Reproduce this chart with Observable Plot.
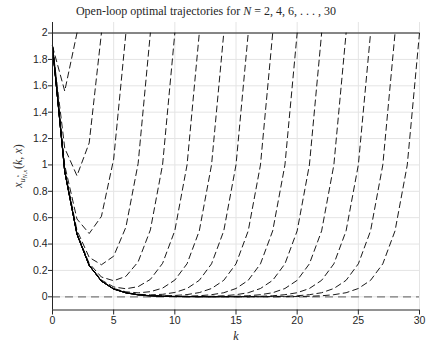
<!DOCTYPE html>
<html>
<head>
<meta charset="utf-8">
<script src="https://cdn.jsdelivr.net/npm/d3@7"></script>
<script src="https://cdn.jsdelivr.net/npm/@observablehq/plot@0.6"></script>
<style>
  html, body { margin: 0; padding: 0; background: #fff; }
  #chart { width: 429px; height: 344px; position: relative; }
</style>
</head>
<body>
<div id="chart"></div>
<script>
// ---- data ----
const horizons = [2, 4, 6, 8, 10, 12, 14, 16, 18, 20, 22, 24, 26, 28, 30];

const traj2  = [1.9, 1.56, 2];
const traj4  = [1.9, 1.127, 0.918, 1.167, 2];
const traj6  = [1.9, 0.996, 0.590, 0.480, 0.610, 1.044, 2];
const traj8  = [1.9, 0.962, 0.504, 0.299, 0.243, 0.308, 0.528, 1.011, 2];
const traj10 = [1.9, 0.953, 0.482, 0.253, 0.150, 0.122, 0.155, 0.265, 0.507, 1.003, 2];
const traj12 = [1.9, 0.951, 0.477, 0.241, 0.127, 0.075, 0.061, 0.077, 0.132, 0.254, 0.502, 1.001, 2];
const traj14 = [1.9, 0.950, 0.475, 0.238, 0.121, 0.063, 0.038, 0.030, 0.039, 0.066, 0.127, 0.251, 0.500, 1.000, 2];
const traj16 = [1.9, 0.950, 0.475, 0.238, 0.119, 0.060, 0.032, 0.019, 0.015, 0.019, 0.033, 0.063, 0.125, 0.250, 0.5, 1, 2];
const traj18 = [1.9, 0.95, 0.475, 0.238, 0.119, 0.060, 0.030, 0.016, 0.009, 0.008, 0.010, 0.017, 0.032, 0.063, 0.125, 0.25, 0.5, 1, 2];
const traj20 = [1.9, 0.95, 0.475, 0.238, 0.119, 0.059, 0.030, 0.015, 0.008, 0.005, 0.004, 0.005, 0.008, 0.016, 0.031, 0.063, 0.125, 0.25, 0.5, 1, 2];
const traj22 = [1.9, 0.95, 0.475, 0.238, 0.119, 0.059, 0.030, 0.015, 0.008, 0.004, 0.002, 0.002, 0.002, 0.004, 0.008, 0.016, 0.031, 0.063, 0.125, 0.25, 0.5, 1, 2];
const traj24 = [1.9, 0.95, 0.475, 0.238, 0.119, 0.059, 0.030, 0.015, 0.007, 0.004, 0.002, 0.001, 0.001, 0.001, 0.002, 0.004, 0.008, 0.016, 0.031, 0.063, 0.125, 0.25, 0.5, 1, 2];
const traj26 = [1.9, 0.95, 0.475, 0.238, 0.119, 0.059, 0.030, 0.015, 0.007, 0.004, 0.002, 0.001, 0.001, 0.000, 0.001, 0.001, 0.002, 0.004, 0.008, 0.016, 0.031, 0.063, 0.125, 0.25, 0.5, 1, 2];
const traj28 = [1.9, 0.95, 0.475, 0.238, 0.119, 0.059, 0.030, 0.015, 0.007, 0.004, 0.002, 0.001, 0.000, 0.000, 0.000, 0.000, 0.000, 0.001, 0.002, 0.004, 0.008, 0.016, 0.031, 0.063, 0.125, 0.25, 0.5, 1, 2];
const traj30 = [1.9, 0.95, 0.475, 0.238, 0.119, 0.059, 0.030, 0.015, 0.007, 0.004, 0.002, 0.001, 0.000, 0.000, 0.000, 0.000, 0.000, 0.000, 0.000, 0.001, 0.002, 0.004, 0.008, 0.016, 0.031, 0.063, 0.125, 0.25, 0.5, 1, 2];

const trajectories = [traj2, traj4, traj6, traj8, traj10, traj12, traj14, traj16, traj18, traj20, traj22, traj24, traj26, traj28, traj30];

const terminalValue = [2];
const referenceValue = [0];

const kTicks = [0, 5, 10, 15, 20, 25, 30];
const kTickLabels = ["0", "5", "10", "15", "20", "25", "30"];
const yTicks = [0, 0.2, 0.4, 0.6, 0.8, 1, 1.2, 1.4, 1.6, 1.8, 2];
const yTickLabels = ["0", "0.2", "0.4", "0.6", "0.8", "1", "1.2", "1.4", "1.6", "1.8", "2"];

const titleText = "Open-loop optimal trajectories for ";
const titleMath = " = 2, 4, 6, . . . , 30";

// ---- build table ----
const rows = [];
trajectories.forEach((t, i) => t.forEach((v, k) => rows.push({N: horizons[i], k, x: v})));

const lineMarks = horizons.map((N, i) =>
  Plot.line(rows.filter(r => r.N === N), {
    x: "k", y: "x",
    stroke: "#000", strokeWidth: 0.9,
    strokeDasharray: "6,4",
    strokeDashoffset: (i * 3.7) % 10
  })
);

const chart = Plot.plot({
  width: 429,
  height: 344,
  marginLeft: 52,
  marginRight: 10,
  marginTop: 22,
  marginBottom: 34.5,
  style: {fontFamily: "'Liberation Sans', Arial, sans-serif", fontSize: "10.5px", color: "#262626", background: "#fff"},
  x: {domain: [0, 30]},
  y: {domain: [-0.1, 2.08]},
  marks: [
    Plot.ruleY(yTicks, {stroke: "#e4e4e4", strokeWidth: 1}),
    Plot.ruleX(kTicks, {stroke: "#e4e4e4", strokeWidth: 1}),
    Plot.ruleY(referenceValue, {stroke: "#7a7a7a", strokeWidth: 1.3, strokeDasharray: "8,5"}),
    Plot.ruleY(terminalValue, {stroke: "#1a1a1a", strokeWidth: 1.1}),
    ...lineMarks,
    Plot.ruleX([0], {stroke: "#262626", strokeWidth: 1}),
    Plot.ruleY([-0.1], {stroke: "#262626", strokeWidth: 1}),
    Plot.axisY({ticks: yTicks, tickFormat: (d, i) => yTickLabels[i], tickSize: 4, tickPadding: 1, label: null, stroke: "#262626"}),
    Plot.axisX({ticks: kTicks, tickFormat: (d, i) => kTickLabels[i], tickSize: 5, tickPadding: 2, label: null, stroke: "#262626"})
  ]
});

document.getElementById("chart").appendChild(chart);

// ---- title and axis labels (serif, LaTeX-like) ----
const svg = d3.select(chart);
const serif = "'Liberation Serif', 'DejaVu Serif', serif";

const title = svg.append("text")
  .attr("x", 206).attr("y", 15)
  .attr("text-anchor", "middle")
  .attr("font-family", serif)
  .attr("font-size", 12)
  .attr("fill", "#262626");
title.append("tspan").text(titleText);
title.append("tspan").attr("font-style", "italic").text("N");
title.append("tspan").text(titleMath);

svg.append("text")
  .attr("x", 236).attr("y", 340)
  .attr("text-anchor", "middle")
  .attr("font-family", serif)
  .attr("font-style", "italic")
  .attr("font-size", 12)
  .attr("fill", "#262626")
  .text("k");

const yl = svg.append("text")
  .attr("transform", "translate(22,166) rotate(-90)")
  .attr("text-anchor", "middle")
  .attr("font-family", serif)
  .attr("font-size", 12)
  .attr("fill", "#333");
yl.append("tspan").attr("font-style", "italic").text("x");
yl.append("tspan").attr("font-style", "italic").attr("font-size", 8.5).attr("dy", 3).text("u");
yl.append("tspan").attr("font-size", 6).attr("dy", -5).text("⋆");
yl.append("tspan").attr("font-style", "italic").attr("font-size", 6).attr("dx", -4).attr("dy", 7).text("N,x");
yl.append("tspan").attr("dy", -5).attr("dx", 1).text("(");
yl.append("tspan").attr("font-style", "italic").text("k");
yl.append("tspan").text(", ");
yl.append("tspan").attr("font-style", "italic").text("x");
yl.append("tspan").text(")");
</script>
</body>
</html>
